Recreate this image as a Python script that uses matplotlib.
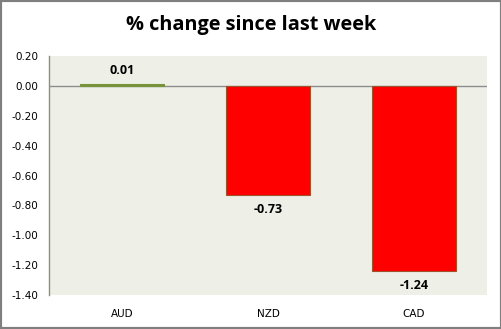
import matplotlib.pyplot as plt
from matplotlib.patches import Rectangle

# data
currencies = ['AUD', 'NZD', 'CAD']
changes = [0.01, -0.73, -1.24]
bar_colors = ['#77933C', '#FF0000', '#FF0000']
edge_colors = ['#77933C', '#A0522D', '#A0522D']
yticks = [0.20, 0.00, -0.20, -0.40, -0.60, -0.80, -1.00, -1.20, -1.40]

fig = plt.figure(figsize=(5.02, 3.29), dpi=100)
fig.patch.set_facecolor('white')
ax = fig.add_axes([49 / 502, 1 - 295 / 329, 438 / 502, 239 / 329])
ax.set_facecolor('#EEF0E8')

x = list(range(len(currencies)))
ax.bar(x, changes, width=0.575, color=bar_colors, edgecolor=edge_colors, linewidth=0.8, zorder=3)
ax.set_xlim(-0.5, 2.5)
ax.set_ylim(-1.40, 0.20)
ax.axhline(0, color='#8C8C8C', linewidth=1, zorder=2)

ax.set_yticks(yticks)
ax.set_yticklabels([f'{v:.2f}' for v in yticks], fontsize=7.5, family='DejaVu Sans')
ax.set_xticks(x)
ax.set_xticklabels(currencies, fontsize=7.5, family='DejaVu Sans')
ax.tick_params(axis='both', length=0, pad=10)
ax.tick_params(axis='y', pad=8)

for s in ['top', 'right', 'bottom']:
    ax.spines[s].set_visible(False)
ax.spines['left'].set_color('#8C9078')
ax.spines['left'].set_linewidth(1)

# data labels
for xi, v in zip(x, changes):
    if v >= 0:
        ax.annotate(f'{v:.2f}', (xi, v), xytext=(0, 5), textcoords='offset points',
                    ha='center', va='bottom', fontsize=9, fontweight='bold', family='Open Sans')
    else:
        ax.annotate(f'{v:.2f}', (xi, v), xytext=(0, -6), textcoords='offset points',
                    ha='center', va='top', fontsize=9, fontweight='bold', family='Open Sans')

fig.text(0.5, 1 - 25 / 329, '% change since last week', ha='center', va='center',
         fontsize=14.3, fontweight='bold', family='Open Sans')

# outer border
fig.patches.append(Rectangle((0, 0), 1, 1, transform=fig.transFigure, fill=False,
                             edgecolor='#7F7F7F', linewidth=3))

fig.savefig('out.png', dpi=100)
